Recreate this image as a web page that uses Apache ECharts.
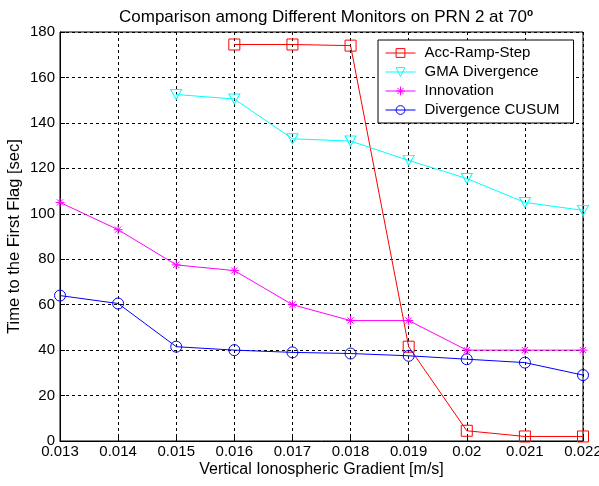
<!DOCTYPE html>
<html><head><meta charset="utf-8">
<script src="https://cdn.jsdelivr.net/npm/echarts@6/dist/echarts.min.js"></script>
<style>html,body{margin:0;padding:0;background:#fff}#c{width:599px;height:486px}</style>
</head><body><div id="c"></div>
<script>
var gradients = ['0.013','0.014','0.015','0.016','0.017','0.018','0.019','0.02','0.021','0.022'];
var accRampStep = [null, null, null, 174.5, 174.5, 174, 41.5, 4.5, 2, 2];
var gmaDivergence = [null, null, 152.5, 150.5, 133, 132, 123.5, 115.5, 105, 101.5];
var innovation = [105, 93, 77.5, 75, 60, 53, 53, 40, 40, 40];
var divergenceCusum = [64, 60.5, 41.5, 40, 39, 38.5, 37.5, 36, 34.5, 29];
var yTicks = [0, 20, 40, 60, 80, 100, 120, 140, 160, 180];

var font = 'Liberation Sans, Arial, sans-serif';
var tri = 'path://M0,0 L10,0 L5,9 Z';
var star = 'path://M5,0 L5,10 M0,5 L10,5 M1.5,1.5 L8.5,8.5 M8.5,1.5 L1.5,8.5';
function mk(name, data, color, symbol, size) {
  return {
    name: name, type: 'line', data: data, connectNulls: false,
    symbol: symbol, symbolSize: size, showAllSymbol: true,
    lineStyle: {color: color, width: 1},
    itemStyle: {color: 'rgba(0,0,0,0)', borderColor: color, borderWidth: 1},
    emphasis: {disabled: true}, animation: false
  };
}
var chart = echarts.init(document.getElementById('c'), null, {renderer: 'canvas'});
chart.setOption({
  backgroundColor: '#fff',
  animation: false,
  title: {
    text: '{a|Comparison among Different Monitors on PRN 2 at 70}{s|o}',
    left: 321, textAlign: 'center', top: 3,
    textStyle: {
      rich: {
        a: {fontFamily: font, fontSize: 17, color: '#000', fontWeight: 'normal'},
        s: {fontFamily: font, fontSize: 10, color: '#000', padding: [0,0,9,0]}
      }
    }
  },
  grid: {left: 60, right: 16, top: 32, bottom: 45, show: true, borderColor: '#000', borderWidth: 1,
         backgroundColor: '#fff', containLabel: false, outerBoundsMode: 'none'},
  legend: {
    orient: 'vertical', left: 378, top: 40,
    backgroundColor: '#fff', borderColor: '#000', borderWidth: 1, borderRadius: 0,
    padding: [5, 14, 5, 7], itemGap: 3, itemWidth: 30, itemHeight: 11,
    lineStyle: {width: 1},
    itemStyle: {borderWidth: 1},
    textStyle: {fontFamily: font, fontSize: 15, color: '#000', lineHeight: 16, padding: [0, 0, 0, 4]},
    data: ['Acc-Ramp-Step', 'GMA Divergence', 'Innovation', 'Divergence CUSUM']
  },
  xAxis: {
    type: 'category', data: gradients, boundaryGap: false,
    name: 'Vertical Ionospheric Gradient [m/s]', nameLocation: 'middle', nameGap: 21, nameMoveOverlap: false,
    nameTextStyle: {fontFamily: font, fontSize: 16, color: '#000'},
    axisLine: {lineStyle: {color: '#000'}},
    axisTick: {inside: true, length: 5, lineStyle: {color: '#000'}},
    axisLabel: {fontFamily: font, fontSize: 15, color: '#000', margin: 3, hideOverlap: false},
    splitLine: {show: true, lineStyle: {color: '#000', type: [3, 3], width: 1}}
  },
  yAxis: {
    type: 'value', min: 0, max: 180, interval: 20,
    name: 'Time to the First Flag [sec]', nameLocation: 'middle', nameGap: 37, nameMoveOverlap: false,
    nameTextStyle: {fontFamily: font, fontSize: 16.5, color: '#000'},
    axisLine: {show: true, lineStyle: {color: '#000'}},
    axisTick: {show: true, inside: true, length: 5, lineStyle: {color: '#000'}},
    axisLabel: {fontFamily: font, fontSize: 15, color: '#000', margin: 5,
      formatter: function (v) { return yTicks.indexOf(v) >= 0 ? String(v) : ''; }},
    splitLine: {show: true, lineStyle: {color: '#000', type: [3, 3], width: 1}}
  },
  series: [
    mk('Acc-Ramp-Step', accRampStep, '#ff0000', 'rect', 11),
    mk('GMA Divergence', gmaDivergence, '#00ffff', tri, [11, 10]),
    mk('Innovation', innovation, '#ff00ff', star, 9),
    mk('Divergence CUSUM', divergenceCusum, '#0000ff', 'circle', 11)
  ]
});
</script></body></html>
